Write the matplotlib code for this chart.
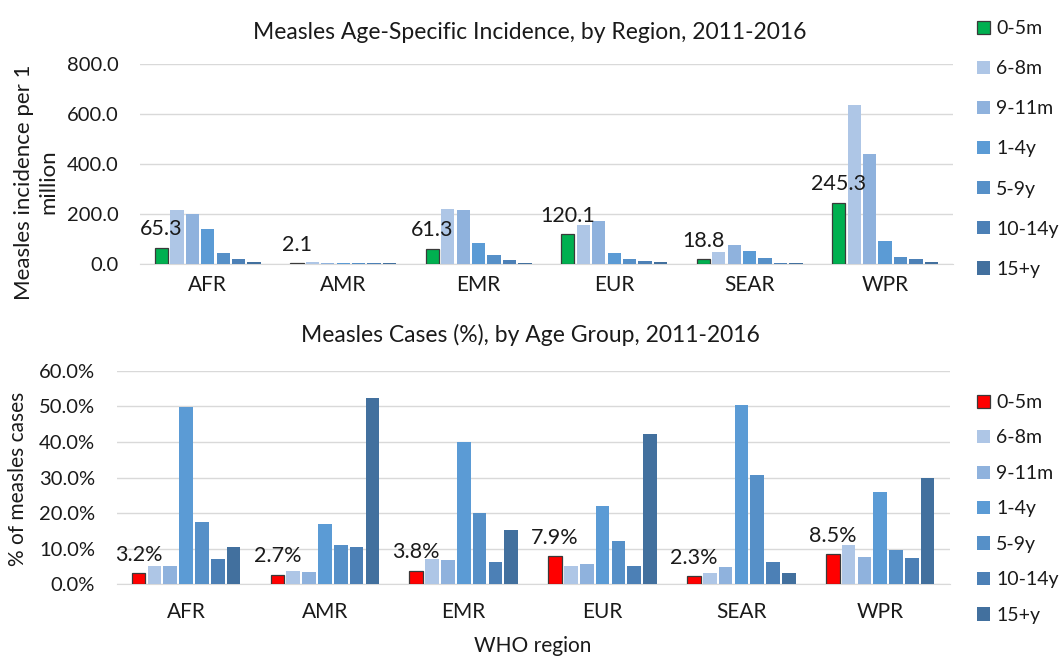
import numpy as np
import matplotlib.pyplot as plt
from matplotlib.patches import Patch

plt.rcParams['font.family'] = ['Lato', 'DejaVu Sans']

regions = ['AFR', 'AMR', 'EMR', 'EUR', 'SEAR', 'WPR']
age_groups = ['0-5m', '6-8m', '9-11m', '1-4y', '5-9y', '10-14y', '15+y']

# incidence per 1 million, one list per age group (values across regions)
inc_0_5m = [65.3, 2.1, 61.3, 120.1, 18.8, 245.3]
inc_6_8m = [216, 6.5, 219, 156, 48, 636]
inc_9_11m = [201, 4, 214, 173, 77, 440]
inc_1_4y = [139, 3.5, 83, 43, 52, 93]
inc_5_9y = [45, 3, 36, 21, 24, 28]
inc_10_14y = [20, 2.5, 15, 11, 4, 20]
inc_15y = [7, 2, 4, 7, 4, 7]

# share of cases (%) by age group
pct_0_5m = [3.2, 2.7, 3.8, 7.9, 2.3, 8.5]
pct_6_8m = [5.2, 3.6, 7.0, 5.2, 3.2, 11.0]
pct_9_11m = [5.0, 3.4, 6.7, 5.8, 4.9, 7.7]
pct_1_4y = [49.9, 16.9, 40.0, 22.0, 50.4, 25.9]
pct_5_9y = [17.4, 10.9, 20.0, 12.1, 30.6, 9.6]
pct_10_14y = [7.2, 10.4, 6.3, 5.0, 6.3, 7.5]
pct_15y = [10.6, 52.3, 15.2, 42.1, 3.2, 29.8]

incidence = [inc_0_5m, inc_6_8m, inc_9_11m, inc_1_4y, inc_5_9y, inc_10_14y, inc_15y]
percent = [pct_0_5m, pct_6_8m, pct_9_11m, pct_1_4y, pct_5_9y, pct_10_14y, pct_15y]

blues = ['#AEC6E6', '#8FB2DD', '#5B9BD5', '#5690C8', '#4C80B6', '#42709E']
txt = '#1a1a1a'

fig = plt.figure(figsize=(10.61, 6.56), dpi=100)
ax1 = fig.add_axes([0.132, 0.5976, 0.766, 0.3049])
ax2 = fig.add_axes([0.110, 0.1093, 0.785, 0.3256])

x = np.arange(len(regions))
pitch = 0.114
width = 0.098
tick_fs = 14.5
cat_fs = 15
label_fs = 15.5
title_fs = 16.5
legend_fs = 14


def draw_panel(ax, data, first_color, fmt, xpad):
    for i, vals in enumerate(data):
        pos = x + (i - 3) * pitch
        if i == 0:
            bars = ax.bar(pos, vals, width, color=first_color,
                          edgecolor='#3a3a3a', linewidth=0.9, zorder=3)
            for b, v in zip(bars, vals):
                ax.annotate(fmt.format(v), (b.get_x() + b.get_width() / 2, v),
                            xytext=(0, 6), textcoords='offset points',
                            ha='center', va='bottom', fontsize=label_fs,
                            color=txt, zorder=5)
        else:
            ax.bar(pos, vals, width, color=blues[i - 1], zorder=3)
    ax.set_xlim(-0.5, len(regions) - 0.5)
    ax.set_xticks(x)
    ax.set_xticklabels(regions, fontsize=cat_fs)
    ax.tick_params(axis='both', length=0, colors=txt)
    ax.tick_params(axis='y', labelsize=tick_fs, pad=15.5)
    ax.tick_params(axis='x', pad=xpad)
    ax.grid(axis='y', color='#D9D9D9', linewidth=1, zorder=0)
    for s in ['top', 'right', 'left']:
        ax.spines[s].set_visible(False)
    ax.spines['bottom'].set_color('#D9D9D9')


draw_panel(ax1, incidence, '#00B050', '{:.1f}', 8)
ax1.set_ylim(0, 800)
ax1.set_yticks(np.arange(0, 801, 200))
ax1.set_yticklabels(['{:.1f}'.format(v) for v in np.arange(0, 801, 200)])
ax1.set_ylabel('Measles incidence per 1\nmillion', fontsize=16, color=txt,
               linespacing=1.25)
ax1.yaxis.set_label_coords(-0.101, 0.41)
ax1.set_title('Measles Age-Specific Incidence, by Region, 2011-2016',
              fontsize=title_fs, color=txt, pad=18, x=0.48)

draw_panel(ax2, percent, '#FF0000', '{:.1f}%', 13)
ax2.set_ylim(0, 60)
ax2.set_yticks(np.arange(0, 61, 10))
ax2.set_yticklabels(['{:.1f}%'.format(v) for v in np.arange(0, 61, 10)])
ax2.set_ylabel('% of measles cases', fontsize=15, color=txt)
ax2.yaxis.set_label_coords(-0.107, 0.495)
ax2.set_xlabel('WHO region', fontsize=cat_fs, color=txt, labelpad=10)
ax2.set_title('Measles Cases (%), by Age Group, 2011-2016',
              fontsize=title_fs, color=txt, pad=21, x=0.497)


def legend_handles(first_color):
    hs = [Patch(facecolor=first_color, edgecolor='#3a3a3a', linewidth=0.9)]
    hs += [Patch(facecolor=c) for c in blues]
    return hs


leg_kw = dict(loc='upper left', frameon=False, fontsize=legend_fs,
              handlelength=0.67, handleheight=0.67, handletextpad=0.3,
              labelcolor=txt, borderaxespad=0, borderpad=0)
fig.legend(legend_handles('#00B050'), age_groups,
           bbox_to_anchor=(0.921, 0.9695), labelspacing=1.19, **leg_kw)
fig.legend(legend_handles('#FF0000'), age_groups,
           bbox_to_anchor=(0.921, 0.3994), labelspacing=0.95, **leg_kw)

fig.savefig('out.png', dpi=100)
